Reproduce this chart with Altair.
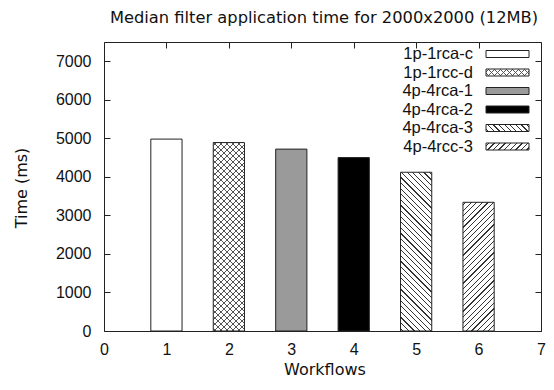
import altair as alt
import pandas as pd

# ---- data ----
workflows = [1, 2, 3, 4, 5, 6]
configs = ["1p-1rca-c", "1p-1rcc-d", "4p-4rca-1", "4p-4rca-2", "4p-4rca-3", "4p-4rcc-3"]
times = [4980, 4890, 4720, 4500, 4120, 3340]
x_ticks = [0, 1, 2, 3, 4, 5, 6, 7]
y_ticks = [0, 1000, 2000, 3000, 4000, 5000, 6000, 7000]
title_text = ["Median filter application time for 2000x2000 (12MB)"]
x_title = ["Workflows"]
y_title = ["Time (ms)"]

# ---- layout / style ----
W, H = 437, 289
XMAX, YMAX = 7, 7500
BAR_HALF = 0.25
LINE = "#222222"
TICK_FONT = "Liberation Sans"
TITLE_FONT = "DejaVu Sans"

# fill, list of stripe overlays (direction, period px, line width px, colour)
styles = {
    "1p-1rca-c": ("white", []),
    "1p-1rcc-d": ("white", [("/", 6.0, 1.0, "#555555"), ("\\", 6.0, 1.0, "#555555")]),
    "4p-4rca-1": ("#9a9a9a", []),
    "4p-4rca-2": ("black", []),
    "4p-4rca-3": ("white", [("\\", 5.6, 1.3, "#333333")]),
    "4p-4rcc-3": ("white", [("/", 5.6, 1.3, "#333333")]),
}


def stripe_gradient(w, h, direction, period, lw, color):
    L = w + h
    k = L / (w * w + h * h)
    if direction == "/":
        x1, y1, x2, y2 = 0, 0, k * w, k * h
    else:
        x1, y1, x2, y2 = 0, 1, k * w, 1 - k * h
    clear = "rgba(255,255,255,0)"
    stops = [{"offset": 0, "color": clear}]
    n = int(L // period) + 2
    for j in range(n):
        c = (j * period + period / 2) / L
        a = c - lw / 2 / L
        b = c + lw / 2 / L
        if b <= 0 or a >= 1:
            continue
        a = round(max(a, 0), 5)
        b = round(min(b, 1), 5)
        stops += [
            {"offset": a, "color": clear},
            {"offset": a, "color": color},
            {"offset": b, "color": color},
            {"offset": b, "color": clear},
        ]
    stops.append({"offset": 1, "color": clear})
    return {"gradient": "linear", "x1": x1, "y1": y1, "x2": round(x2, 5),
            "y2": round(y2, 5), "stops": stops}


df = pd.DataFrame({"wf": workflows, "cfg": configs, "t": times})
df["x0"] = df["wf"] - BAR_HALF
df["x1"] = df["wf"] + BAR_HALF

xs = alt.Scale(domain=[0, XMAX], nice=False)
ys = alt.Scale(domain=[0, YMAX], nice=False)

layers = []
bar_w_px = 2 * BAR_HALF * W / XMAX
for nm, t in zip(configs, times):
    fill, overlays = styles[nm]
    enc = dict(
        x=alt.X("x0:Q", scale=xs, axis=None),
        x2="x1:Q",
        y=alt.Y("t:Q", scale=ys, axis=None),
        y2=alt.datum(0),
    )
    sub = alt.Chart(df).transform_filter(alt.datum.cfg == nm)
    layers.append(sub.mark_bar(fill=fill, strokeWidth=0).encode(**enc))
    h_px = t / YMAX * H
    for (d, p, lw, col) in overlays:
        g = stripe_gradient(bar_w_px, h_px, d, p, lw, col)
        layers.append(sub.mark_bar(fill=g, strokeWidth=0).encode(**enc))

axis_common = dict(offset=-6, tickSize=6, domain=False, grid=False,
                   tickColor=LINE, tickWidth=1, title=None,
                   labelFont=TICK_FONT, labelFontSize=16, labelColor="#111111")

outline = alt.Chart(df).mark_bar(fillOpacity=0, stroke=LINE, strokeWidth=1).encode(
    x=alt.X("x0:Q", scale=xs, axis=alt.Axis(orient="bottom", values=x_ticks, format="d",
                                            labelPadding=10, labelFlush=False,
                                            labelOverlap=False, **axis_common)),
    x2="x1:Q",
    y=alt.Y("t:Q", scale=ys, axis=alt.Axis(orient="left", values=y_ticks, format="d",
                                           labelPadding=13, labelOverlap=False,
                                           **axis_common)),
    y2=alt.datum(0),
)
layers.append(outline)

mirror = alt.Chart(df).mark_bar(opacity=0).encode(
    x=alt.X("x0:Q", scale=xs, axis=alt.Axis(orient="top", values=x_ticks, labels=False,
                                            **axis_common)),
    x2="x1:Q",
    y=alt.Y("t:Q", scale=ys, axis=alt.Axis(orient="right", values=y_ticks, labels=False,
                                           **axis_common)),
    y2=alt.datum(0),
)
layers.append(mirror)

# ---- titles ----
layers.append(alt.Chart(pd.DataFrame({"s": title_text})).mark_text(
    font=TITLE_FONT, fontSize=16.3, align="center", baseline="alphabetic", color="#111111"
).encode(x=alt.value(220), y=alt.value(-19), text="s:N"))

layers.append(alt.Chart(pd.DataFrame({"s": x_title})).mark_text(
    font=TITLE_FONT, fontSize=16, align="center", baseline="alphabetic", color="#111111"
).encode(x=alt.value(221), y=alt.value(333), text="s:N"))

layers.append(alt.Chart(pd.DataFrame({"s": y_title})).mark_text(
    font=TITLE_FONT, fontSize=16, align="center", baseline="alphabetic", angle=270,
    color="#111111"
).encode(x=alt.value(-77), y=alt.value(146), text="s:N"))

# ---- legend (drawn manually, gnuplot style) ----
SW_X0, SW_X1, SW_H = 382, 425, 7
for i, nm in enumerate(configs):
    cy = 12 + 18.5 * i
    ldf = pd.DataFrame({"s": [nm]})
    layers.append(alt.Chart(ldf).mark_text(
        font=TICK_FONT, fontSize=16.5, align="right", baseline="middle", color="#111111"
    ).encode(x=alt.value(369), y=alt.value(cy), text="s:N"))
    fill, overlays = styles[nm]
    sw = dict(x=alt.value(SW_X0), x2=alt.value(SW_X1),
              y=alt.value(cy - SW_H / 2), y2=alt.value(cy + SW_H / 2))
    layers.append(alt.Chart(ldf).mark_rect(fill=fill, strokeWidth=0).encode(**sw))
    for (d, p, lw, col) in overlays:
        g = stripe_gradient(SW_X1 - SW_X0, SW_H, d, p, lw, col)
        layers.append(alt.Chart(ldf).mark_rect(fill=g, strokeWidth=0).encode(**sw))
    layers.append(alt.Chart(ldf).mark_rect(fillOpacity=0, stroke=LINE, strokeWidth=1)
                  .encode(**sw))

chart = alt.layer(*layers).properties(
    width=W, height=H,
    autosize=alt.AutoSizeParams(type="none"),
    padding={"left": 96, "top": 34, "right": 5, "bottom": 47},
).configure_view(stroke=LINE, strokeWidth=1)

chart.save("out.html", embed_options={"renderer": "svg", "actions": False})
